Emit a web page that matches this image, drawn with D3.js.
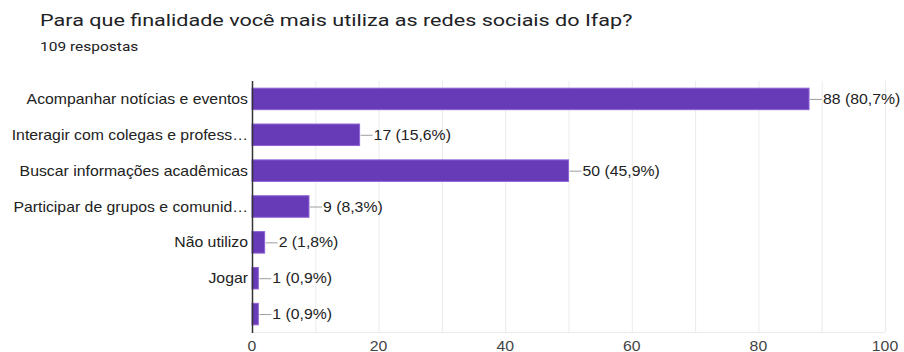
<!DOCTYPE html>
<html>
<head>
<meta charset="utf-8">
<script src="https://cdn.jsdelivr.net/npm/d3@7"></script>
<style>
  body { margin: 0; background: #fff; }
  svg { display: block; }
</style>
</head>
<body>
<div id="chart"></div>
<script>
// data
const categorias = [
  "Acompanhar notícias e eventos",
  "Interagir com colegas e profess…",
  "Buscar informações acadêmicas",
  "Participar de grupos e comunid…",
  "Não utilizo",
  "Jogar",
  ""
]
const respostas = [88, 17, 50, 9, 2, 1, 1]
const percentuais = ["80,7%", "15,6%", "45,9%", "8,3%", "1,8%", "0,9%", "0,9%"]
const ticks = [0, 20, 40, 60, 80, 100]

const W = 904, H = 352
const SX = 1.13 // the screenshot is a bit stretched sideways

const svg = d3.select("#chart")
  .append("svg")
  .attr("width", W)
  .attr("height", H)

// title
svg.append("text")
  .attr("transform", "translate(40,26) scale(1.27,1)")
  .style("font-family", "Roboto")
  .style("font-size", "17px")
  .style("fill", "#202124")
  .text("Para que finalidade você mais utiliza as redes sociais do Ifap?")

svg.append("text")
  .attr("transform", "translate(40,51) scale(1.24,1)")
  .style("font-family", "Roboto")
  .style("font-size", "12.5px")
  .style("fill", "#202124")
  .text("109 respostas")

const x = d3.scaleLinear().domain([0, 100]).range([252, 885])
const y = d3.scaleBand()
  .domain(d3.range(categorias.length))
  .range([81, 332])
  .paddingInner(0.4)
  .paddingOuter(0.2)
const mid = i => y(i) + y.bandwidth() / 2

// grid (every 10, the one at 0 is the axis)
svg.append("g")
  .selectAll("line")
  .data(d3.range(10, 101, 10))
  .join("line")
    .attr("x1", d => x(d) + 0.5).attr("x2", d => x(d) + 0.5)
    .attr("y1", 81).attr("y2", 332)
    .style("stroke", "#ebebeb")
    .style("stroke-width", 1)

svg.append("line")
  .attr("x1", x(0)).attr("x2", x(100))
  .attr("y1", 332.5).attr("y2", 332.5)
  .style("stroke", "#ebebeb")

// bars
svg.append("g")
  .selectAll("rect")
  .data(respostas)
  .join("rect")
    .attr("x", x(0))
    .attr("y", (d, i) => y(i))
    .attr("width", d => x(d) - x(0))
    .attr("height", y.bandwidth())
    .style("fill", "#673ab7")
    .style("stroke", "#8e63d4")
    .style("stroke-width", 1)

// leader lines + value labels
const lab = svg.append("g")
lab.selectAll("line")
  .data(respostas)
  .join("line")
    .attr("x1", d => x(d) + 1).attr("x2", d => x(d) + 13)
    .attr("y1", (d, i) => mid(i) + 0.5)
    .attr("y2", (d, i) => mid(i) + 0.5)
    .style("stroke", "#9e9e9e")
    .style("stroke-width", 1)

lab.selectAll("text")
  .data(respostas)
  .join("text")
    .attr("transform", (d, i) => "translate(" + (x(d) + 14) + "," + mid(i) + ") scale(" + SX + ",1)")
    .attr("dy", "0.36em")
    .style("font-family", "Liberation Sans, Arial")
    .style("font-size", "14px")
    .style("fill", "#222")
    .text((d, i) => d + " (" + percentuais[i] + ")")

// category labels
svg.append("g")
  .selectAll("text")
  .data(categorias)
  .join("text")
    .attr("transform", (d, i) => "translate(248," + mid(i) + ") scale(" + SX + ",1)")
    .attr("dy", "0.36em")
    .attr("text-anchor", "end")
    .style("font-family", "Liberation Sans, Arial")
    .style("font-size", "14px")
    .style("fill", "#222")
    .text(d => d)

// axis line at 0
svg.append("line")
  .attr("x1", x(0) + 0.5).attr("x2", x(0) + 0.5)
  .attr("y1", 81).attr("y2", 333)
  .style("stroke", "#333")
  .style("stroke-width", 1.5)

// tick labels (cut by the bottom edge, as in the screenshot)
svg.append("g")
  .selectAll("text")
  .data(ticks)
  .join("text")
    .attr("transform", d => "translate(" + x(d) + ",351) scale(" + SX + ",1)")
    .attr("text-anchor", "middle")
    .style("font-family", "Liberation Sans, Arial")
    .style("font-size", "14px")
    .style("fill", "#444")
    .text(d => d)
</script>
</body>
</html>
